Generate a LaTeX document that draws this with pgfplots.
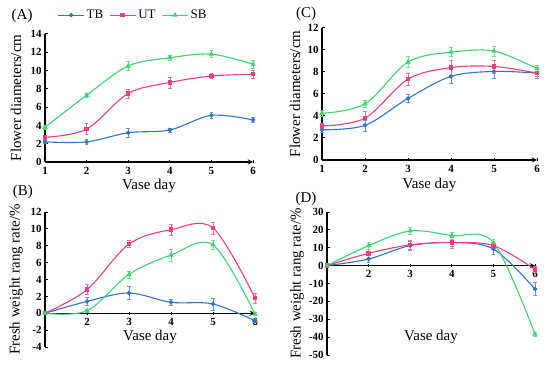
\documentclass[border=0pt]{standalone}
\usepackage{fontspec}
\setmainfont{Liberation Serif}
\usepackage{pgfplots}
\pgfplotsset{compat=1.18}
\definecolor{cTB}{HTML}{2E75C8}
\definecolor{cUT}{HTML}{EE3F7A}
\definecolor{cSB}{HTML}{3BD66E}

\pgfplotsset{
  panel/.style={scale only axis, clip=false, enlargelimits=false,
    xmin=1, xmax=6, axis y line=left,
    axis line style={-, line width=1.3pt, black},
    tick align=inside, major tick length=3bp,
    tick style={black, line width=1pt},
    xticklabel={\textbf{\pgfmathprintnumber[assume math mode=true]{\tick}}},
    yticklabel={\textbf{\pgfmathprintnumber[assume math mode=true]{\tick}}},
    tick label style={font=\bfseries\fontsize{11}{12}\selectfont},
    xlabel={Vase day},
  },
  ser/.style={#1, line width=1.1pt, smooth, tension=0.55,
    error bars/y dir=both, error bars/y explicit,
    error bars/error bar style={line width=0.6pt, #1!75},
    error bars/error mark options={rotate=90, mark size=1.8bp, line width=0.6pt, #1!75}},
  sTB/.style={ser=cTB, mark=*, mark size=1.6bp},
  sUT/.style={ser=cUT, mark=square*, mark size=1.7bp},
  sSB/.style={ser=cSB, mark=triangle*, mark size=2bp},
}
\newcommand{\lf}{\fontsize{15}{18}\selectfont}

\begin{document}
\begin{tikzpicture}
\useasboundingbox (0,0) rectangle (550bp,370bp);

% Panel A
\begin{axis}[panel, at={(45bp,208bp)}, anchor=south west, width=208bp, height=128bp,
  axis x line=bottom, ymin=0, ymax=14, ytick={0,2,...,14}, xtick={1,...,6},
  ylabel={Flower diameters/cm},
  ylabel style={at={(axis description cs:-0.139,0.5)}, anchor=center, font=\lf},
  xlabel style={at={(axis description cs:0.5,-0.19)}, anchor=center, font=\lf},
  legend style={at={(axis description cs:0.045,1.148)}, anchor=west, draw=none, fill=none,
    legend columns=3, font=\fontsize{13}{15}\selectfont,
    /tikz/every even column/.append style={column sep=4bp}},
  legend image code/.code={\draw[#1, mark repeat=2, mark phase=2] plot coordinates {(0bp,0bp)(13bp,0bp)(26bp,0bp)};}
]
\addplot[sTB] table[x=x,y=y,y error=e] {
x y e
1 2.2 0.2
2 2.2 0.3
3 3.2 0.5
4 3.5 0.2
5 5.1 0.3
6 4.6 0.3
};
\addplot[sUT] table[x=x,y=y,y error=e] {
x y e
1 2.7 0.2
2 3.6 0.6
3 7.5 0.5
4 8.7 0.6
5 9.4 0.3
6 9.6 0.4
};
\addplot[sSB] table[x=x,y=y,y error=e] {
x y e
1 3.8 0.2
2 7.3 0.2
3 10.5 0.5
4 11.4 0.3
5 11.8 0.4
6 10.7 0.4
};
\legend{TB,UT,SB}
\node[font=\lf] at (axis description cs:-0.11,1.14) {(A)};
\end{axis}

% Panel C
\begin{axis}[panel, at={(322bp,210bp)}, anchor=south west, width=215bp, height=132bp,
  axis x line=bottom, ymin=0, ymax=12, ytick={0,2,...,12}, xtick={1,...,6},
  ylabel={Flower diameters/cm},
  ylabel style={at={(axis description cs:-0.126,0.5)}, anchor=center, font=\lf},
  xlabel style={at={(axis description cs:0.5,-0.19)}, anchor=center, font=\lf},
]
\addplot[sTB] table[x=x,y=y,y error=e] {
x y e
1 2.75 0.2
2 3.15 0.5
3 5.6 0.35
4 7.6 0.6
5 8.05 0.6
6 7.9 0.3
};
\addplot[sUT] table[x=x,y=y,y error=e] {
x y e
1 3.1 0.25
2 3.8 0.6
3 7.35 0.55
4 8.4 0.7
5 8.5 0.6
6 7.9 0.5
};
\addplot[sSB] table[x=x,y=y,y error=e] {
x y e
1 4.25 0.3
2 5.1 0.3
3 8.9 0.5
4 9.8 0.4
5 9.9 0.45
6 8.3 0.35
};
\node[font=\lf] at (axis description cs:-0.074,1.11) {(C)};
\end{axis}

% Panel B
\begin{axis}[panel, at={(45bp,23bp)}, anchor=south west, width=210bp, height=135bp,
  axis x line=middle, ymin=-4, ymax=12, ytick={-4,-2,...,12}, xtick={2,...,6},
  ylabel={Fresh weight rang rate/\%},
  ylabel style={at={(axis description cs:-0.138,0.5)}, anchor=center, font=\lf},
  xlabel style={at={(axis description cs:0.5,0.074)}, anchor=center, font=\lf},
]
\addplot[sTB] table[x=x,y=y,y error=e] {
x y e
1 0 0
2 1.4 0.5
3 2.4 0.75
4 1.3 0.4
5 1.1 0.7
6 -0.9 0.2
};
\addplot[sUT] table[x=x,y=y,y error=e] {
x y e
1 0 0
2 2.8 0.6
3 8.2 0.4
4 9.9 0.7
5 10.1 0.7
6 1.8 0.6
};
\addplot[sSB] table[x=x,y=y,y error=e] {
x y e
1 0 0
2 0.3 0.2
3 4.6 0.4
4 6.9 0.7
5 8.1 0.5
6 -0.1 0.2
};
\node[font=\lf] at (axis description cs:-0.105,1.15) {(B)};
\end{axis}

% Panel D
\begin{axis}[panel, at={(327bp,15bp)}, anchor=south west, width=208bp, height=143bp,
  axis x line=middle, ymin=-50, ymax=30, ytick={-50,-40,...,30}, xtick={2,...,6},
  ylabel={Fresh weight rang rate/\%},
  ylabel style={at={(axis description cs:-0.144,0.5)}, anchor=center, font=\lf},
  xlabel style={at={(axis description cs:0.5,0.126)}, anchor=center, font=\lf},
]
\addplot[sTB] table[x=x,y=y,y error=e] {
x y e
1 0 0
2 3.7 2
3 11.2 2.5
4 12.9 2
5 9.3 3
6 -13.1 3.5
};
\addplot[sUT] table[x=x,y=y,y error=e] {
x y e
1 0 0
2 6.9 2
3 11.6 2.5
4 12.9 3
5 11.2 2
6 -2.1 1.5
};
\addplot[sSB] table[x=x,y=y,y error=e] {
x y e
1 0 0
2 11.2 2
3 19.4 2
4 16.8 2
5 12.9 2
6 -38.3 1
};
\node[font=\lf] at (axis description cs:-0.101,1.09) {(D)};
\end{axis}
\end{tikzpicture}
\end{document}
